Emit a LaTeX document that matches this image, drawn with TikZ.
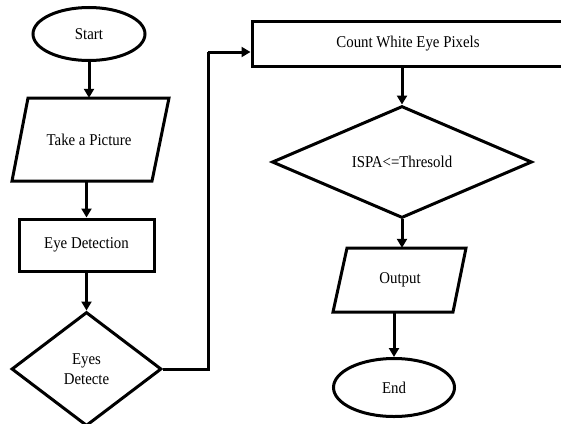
\documentclass[tikz,border=0pt]{standalone}
\usepackage{fontspec}
\setmainfont{Liberation Serif}[FakeStretch=0.9]
\usetikzlibrary{shapes.geometric,arrows.meta}
\begin{document}
\begin{tikzpicture}[x=1pt,y=-1pt,
  every node/.style={font=\fontsize{16.5}{20}\selectfont, inner sep=0pt},
  outl/.style={draw=black, line width=3pt, line join=miter},
  oval/.style={outl, ellipse},
  box/.style={outl, rectangle},
  dec/.style={outl, diamond},
  txt/.style={rectangle, draw=none},
  arr/.style={line width=3pt, -{Triangle[length=9pt,width=10pt]}},
  lin/.style={line width=3pt}]
\useasboundingbox (0,0) rectangle (561,423);
% left column
\node[oval, minimum width=112pt, minimum height=53pt] (start) at (89,34) {Start};
\draw[outl] (28,98) -- (169,98) -- (152,181) -- (12,181) -- cycle;
\node[txt, minimum height=83pt] (pic) at (89,139.5) {Take a Picture};
\node[box, minimum width=135pt, minimum height=52pt] (eye) at (86.5,245) {Eye Detection};
\node[dec, minimum width=150pt, minimum height=114pt, align=center] (det) at (86.5,369) {Eyes\\Detecte};
% right column
\node[box, minimum width=312pt, minimum height=45pt] (count) at (408,43.5) {Count White Eye Pixels};
\node[dec, minimum width=260pt, minimum height=88pt] (ispa) at (402,162) {ISPA<=Thresold};
\draw[outl] (347,248) -- (466,248) -- (453,312) -- (333,312) -- cycle;
\node[txt, minimum height=64pt] (out) at (400,280) {Output};
\node[oval, minimum width=121pt, minimum height=58pt] (end) at (394,387.5) {End};
% connectors
\draw[arr] (start.south) -- (pic.north);
\draw[arr] (eye.north |- pic.south) -- (eye.north);
\draw[arr] (eye.south) -- (det.north);
\coordinate (turn) at (208,52);
\draw[lin] (det.east) -| (turn);
\draw[arr] (turn) -- (turn -| count.west);
\draw[arr] (ispa.north |- count.south) -- (ispa.north);
\draw[arr] (ispa.south) -- (ispa.south |- out.north);
\draw[arr] (end.north |- out.south) -- (end.north);
\end{tikzpicture}
\end{document}
